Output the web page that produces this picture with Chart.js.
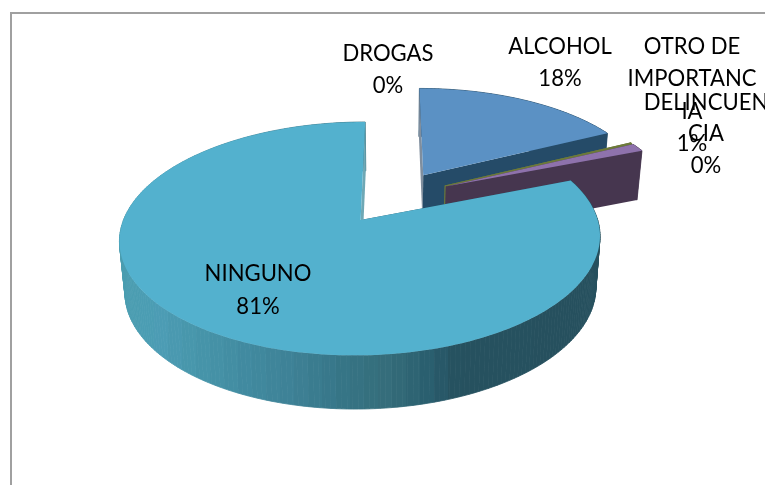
<!DOCTYPE html>
<html>
<head>
<meta charset="utf-8">
<script src="https://cdn.jsdelivr.net/npm/chart.js@4"></script>
<style>
html,body{margin:0;padding:0;background:#fff;overflow:hidden;width:765px;height:485px}
#frame{position:absolute;left:10px;top:12px;width:900px;height:900px;border:2px solid #a0a0a0}
canvas{position:absolute;left:0;top:0}
</style>
</head>
<body>
<div id="frame"></div>
<canvas id="c" width="765" height="485"></canvas>
<script>
const categories = ['DROGAS', 'ALCOHOL', 'DELINCUENCIA', 'OTRO DE IMPORTANCIA', 'NINGUNO'];
const percentValues = [0, 17.6, 0.2, 1.2, 81.0];
const percentLabels = ['0%', '18%', '0%', '1%', '81%'];
const labelLines = [['DROGAS'], ['ALCOHOL'], ['DELINCUEN', 'CIA'], ['OTRO DE', 'IMPORTANC', 'IA'], ['NINGUNO']];
const topColors = ['#8a8f96', '#5b91c4', '#6d7a3b', '#8e72ac', '#53b1ce'];
const wallColors = ['#6a6f76', '#254b68', '#6d7a3b', '#46364f', '#27515f'];
const leadWallColors = ['#6a6f76', '#7f8e9e', '#6d7a3b', '#46364f', '#27515f'];
const trailWallColors = ['#6a6f76', '#254b68', '#6d7a3b', '#46364f', '#6fa8b5'];

// text anchors (centre x, first-line centre y, line gap)
const labelAnchors = [[388, 53, 32], [560, 46, 32], [706, 102, 31.5], [692, 46, 32.5], [258, 273, 33]];

// view of the pie plane
const view = {Ox: 394, Oy: 197.2, R: 229.5, S: 106.5, K: 0.155, D: 50.4, Sb: 108.7, shrink: 0.98};
const topProj = (u, v) => {
  const w = 1 - view.K * v;
  return [view.Ox + view.R * u / w, view.Oy + view.S * v / w];
};
const botProj = (u, v) => {
  const w = 1 - view.K * v;
  return [view.Ox + view.shrink * view.R * u / w, view.Oy + view.D + view.Sb * v / w];
};

// shading along the rim of the big slice
const rimStops = [[118, [74,157,176]], [150, [76,157,181]], [190, [71,149,170]], [240, [65,138,160]],
  [300, [60,126,146]], [330, [54,118,136]], [380, [53,109,122]], [420, [42,95,111]], [450, [38,81,95]], [600, [38,80,94]]];
const rimColor = x => {
  for (let i = 1; i < rimStops.length; i++) {
    if (x <= rimStops[i][0]) {
      const a = rimStops[i - 1], b = rimStops[i];
      const t = Math.max(0, (x - a[0]) / (b[0] - a[0]));
      return 'rgb(' + a[1].map((c, k) => Math.round(c + (b[1][k] - c) * t)).join(',') + ')';
    }
  }
  return 'rgb(38,80,94)';
};
const rimGradient = ctx => {
  const x0 = 112, x1 = 606, step = 14;
  const g = ctx.createLinearGradient(x0, 0, x1, 0);
  for (let x = x0; x < x1; x += step) {
    const c = rimColor(x);
    g.addColorStop((x - x0) / (x1 - x0), c);
    g.addColorStop(Math.min(1, (x + step - 0.5 - x0) / (x1 - x0)), c);
  }
  return g;
};

const poly = (ctx, pts, color) => {
  ctx.beginPath();
  pts.forEach((p, i) => i ? ctx.lineTo(p[0], p[1]) : ctx.moveTo(p[0], p[1]));
  ctx.closePath();
  ctx.fillStyle = color;
  ctx.fill();
};

const pie3d = {
  id: 'pie3d',
  beforeDatasetsDraw(chart) {
    const ctx = chart.ctx;
    const meta = chart.getDatasetMeta(0);
    const set = chart.data.datasets[0];
    meta.data.forEach((el, i) => {
      if (el.endAngle - el.startAngle < 1e-4) return;
      const r = el.outerRadius;
      const mid = (el.startAngle + el.endAngle) / 2;
      const e = el.options.offset / r;
      const cu = Math.cos(mid) * e, cv = Math.sin(mid) * e;
      const n = Math.max(2, Math.ceil((el.endAngle - el.startAngle) / 0.02));
      const rim = [];
      for (let k = 0; k <= n; k++) {
        const a = el.startAngle + (el.endAngle - el.startAngle) * k / n;
        rim.push([cu + Math.cos(a), cv + Math.sin(a)]);
      }
      const apexT = topProj(cu, cv), apexB = botProj(cu, cv);
      const s0 = rim[0], s1 = rim[n];
      // outer wall
      const paint = i === 4 ? rimGradient(ctx) : set.wallColor[i];
      for (let k = 0; k < n; k++) {
        const a = rim[k], b = rim[k + 1];
        poly(ctx, [topProj(a[0], a[1]), topProj(b[0], b[1]), botProj(b[0], b[1]), botProj(a[0], a[1])], paint);
        ctx.strokeStyle = paint;
        ctx.lineWidth = 0.8;
        ctx.stroke();
      }
      // radial walls
      poly(ctx, [apexT, apexB, botProj(s0[0], s0[1]), topProj(s0[0], s0[1])], set.leadWall[i]);
      poly(ctx, [apexT, apexB, botProj(s1[0], s1[1]), topProj(s1[0], s1[1])], set.trailWall[i]);
      // top face
      poly(ctx, [apexT].concat(rim.map(p => topProj(p[0], p[1]))), set.backgroundColor[i]);
    });
    return false;
  },
  afterDraw(chart) {
    const ctx = chart.ctx;
    ctx.save();
    ctx.font = '24px Lato';
    ctx.fillStyle = '#000';
    ctx.textAlign = 'center';
    ctx.textBaseline = 'middle';
    chart.data.labelLines.forEach((lines, i) => {
      const [x, y, gap] = labelAnchors[i];
      lines.concat(percentLabels[i]).forEach((t, j) => {
        ctx.save();
        ctx.translate(x, y + j * gap);
        ctx.scale(0.92, 1);
        ctx.fillText(t, 0, 0);
        ctx.restore();
      });
    });
    ctx.restore();
  }
};

new Chart(document.getElementById('c'), {
  type: 'pie',
  data: {
    labels: categories,
    labelLines: labelLines,
    datasets: [{
      data: percentValues,
      backgroundColor: topColors,
      wallColor: wallColors,
      leadWall: leadWallColors,
      trailWall: trailWallColors,
      borderWidth: 0,
      offset: 54
    }]
  },
  options: {
    responsive: false,
    animation: false,
    layout: {padding: 0},
    plugins: {legend: {display: false}, tooltip: {enabled: false}}
  },
  plugins: [pie3d]
});
</script>
</body>
</html>
